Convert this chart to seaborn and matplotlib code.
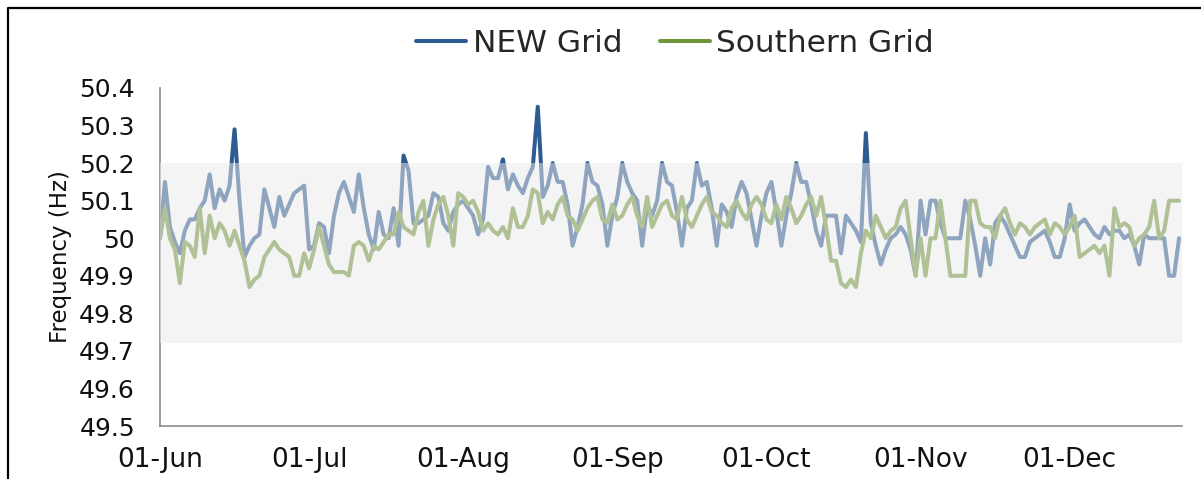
import matplotlib
matplotlib.use("Agg")
import matplotlib.dates as mdates
import matplotlib.pyplot as plt
import pandas as pd
import seaborn as sns
from matplotlib.lines import Line2D
from matplotlib.ticker import FuncFormatter

# daily grid frequency, 01-Jun .. 23-Dec
dates = pd.date_range("2013-06-01", periods=206, freq="D")

new_grid = [
    50.00, 50.15, 50.03, 49.99, 49.96, 50.02, 50.05, 50.05, 50.08, 50.10,
    50.17, 50.08, 50.13, 50.10, 50.14, 50.29, 50.10, 49.95, 49.98, 50.00,
    50.01, 50.13, 50.08, 50.03, 50.11, 50.06, 50.09, 50.12, 50.13, 50.14,
    49.97, 49.98, 50.04, 50.03, 49.96, 50.06, 50.12, 50.15, 50.11, 50.07,
    50.17, 50.08, 50.01, 49.97, 50.07, 50.01, 50.00, 50.08, 49.98, 50.22,
    50.18, 50.04, 50.04, 50.05, 50.06, 50.12, 50.11, 50.04, 50.02, 50.07,
    50.09, 50.10, 50.08, 50.06, 50.01, 50.05, 50.19, 50.16, 50.16, 50.21,
    50.13, 50.17, 50.14, 50.12, 50.16, 50.19, 50.35, 50.11, 50.14, 50.20,
    50.15, 50.15, 50.09, 49.98, 50.03, 50.09, 50.20, 50.15, 50.14, 50.09,
    49.98, 50.06, 50.11, 50.20, 50.15, 50.12, 50.10, 49.98, 50.09, 50.06,
    50.10, 50.20, 50.15, 50.14, 50.07, 49.98, 50.08, 50.10, 50.20, 50.14,
    50.15, 50.08, 49.98, 50.09, 50.07, 50.03, 50.11, 50.15, 50.12, 50.05,
    49.98, 50.06, 50.12, 50.15, 50.07, 49.98, 50.06, 50.12, 50.20, 50.15,
    50.15, 50.09, 50.02, 49.98, 50.06, 50.06, 50.06, 49.96, 50.06, 50.04,
    50.02, 49.99, 50.28, 50.04, 49.98, 49.93, 49.97, 50.00, 50.01, 50.03,
    50.01, 49.97, 49.90, 50.10, 50.01, 50.10, 50.10, 50.04, 50.00, 50.00,
    50.00, 50.00, 50.10, 50.05, 49.98, 49.90, 50.00, 49.93, 50.04, 50.06,
    50.04, 50.01, 49.98, 49.95, 49.95, 49.99, 50.00, 50.01, 50.02, 49.99,
    49.95, 49.95, 50.00, 50.09, 50.02, 50.04, 50.05, 50.03, 50.01, 50.00,
    50.03, 50.01, 50.02, 50.02, 50.00, 50.01, 49.98, 49.93, 50.01, 50.00,
    50.00, 50.00, 50.00, 49.90, 49.90, 50.00,
]

southern_grid = [
    50.00, 50.08, 50.00, 49.97, 49.88, 49.99, 49.98, 49.95, 50.08, 49.96,
    50.06, 50.00, 50.04, 50.02, 49.98, 50.02, 49.98, 49.94, 49.87, 49.89,
    49.90, 49.95, 49.97, 49.99, 49.97, 49.96, 49.95, 49.90, 49.90, 49.96,
    49.92, 49.97, 50.03, 49.98, 49.93, 49.91, 49.91, 49.91, 49.90, 49.98,
    49.99, 49.98, 49.94, 49.98, 49.97, 49.99, 50.01, 50.01, 50.07, 50.03,
    50.02, 50.01, 50.07, 50.10, 49.98, 50.05, 50.09, 50.11, 50.06, 49.98,
    50.12, 50.11, 50.09, 50.10, 50.07, 50.02, 50.04, 50.02, 50.01, 50.03,
    50.00, 50.08, 50.03, 50.03, 50.06, 50.13, 50.12, 50.04, 50.07, 50.05,
    50.09, 50.11, 50.06, 50.05, 50.02, 50.05, 50.08, 50.10, 50.11, 50.05,
    50.04, 50.09, 50.05, 50.06, 50.09, 50.11, 50.06, 50.03, 50.11, 50.03,
    50.06, 50.09, 50.10, 50.06, 50.05, 50.11, 50.05, 50.03, 50.06, 50.09,
    50.11, 50.07, 50.06, 50.04, 50.03, 50.08, 50.10, 50.07, 50.05, 50.09,
    50.11, 50.09, 50.05, 50.04, 50.09, 50.05, 50.11, 50.08, 50.04, 50.06,
    50.09, 50.11, 50.06, 50.11, 50.03, 49.94, 49.94, 49.88, 49.87, 49.89,
    49.87, 49.96, 50.02, 50.00, 50.06, 50.03, 50.00, 50.02, 50.03, 50.08,
    50.10, 50.00, 49.90, 50.00, 49.90, 50.00, 50.00, 50.10, 50.00, 49.90,
    49.90, 49.90, 49.90, 50.10, 50.10, 50.04, 50.03, 50.03, 50.00, 50.06,
    50.08, 50.04, 50.01, 50.04, 50.03, 50.01, 50.03, 50.04, 50.05, 50.01,
    50.04, 50.03, 50.01, 50.03, 50.06, 49.95, 49.96, 49.97, 49.98, 49.96,
    49.98, 49.90, 50.08, 50.03, 50.04, 50.03, 49.98, 50.00, 50.01, 50.03,
    50.10, 50.00, 50.02, 50.10, 50.10, 50.10,
]

series_names = ["NEW Grid", "Southern Grid"]
series_colors = ["#2d5b92", "#71953a"]
band_range = (49.72, 50.2)
y_ticks = [49.5, 49.6, 49.7, 49.8, 49.9, 50.0, 50.1, 50.2, 50.3, 50.4]


def main() -> int:
    sns.set_style("white")
    plt.rcParams["font.family"] = ["DejaVu Sans"]

    df = pd.DataFrame({
        "date": list(dates) * 2,
        "freq": new_grid + southern_grid,
        "grid": [series_names[0]] * len(new_grid) + [series_names[1]] * len(southern_grid),
    })
    palette = dict(zip(series_names, series_colors))

    fig = plt.figure(figsize=(12.01, 4.79), dpi=100)
    ax = fig.add_axes([0.1332, 0.1106, 0.8510, 0.7057])

    sns.lineplot(data=df, x="date", y="freq", hue="grid", hue_order=series_names,
                 palette=palette, linewidth=2.9, legend=False, ax=ax, zorder=2,
                 solid_joinstyle="round", solid_capstyle="round")

    # tolerance band drawn over the lines, washes them out
    ax.axhspan(band_range[0], band_range[1], color="#eaeaea", alpha=0.52, lw=0, zorder=3)

    ax.set_ylim(49.5, 50.4)
    ax.set_yticks(y_ticks)
    ax.yaxis.set_major_formatter(FuncFormatter(lambda v, _: f"{v:g}"))
    ax.set_xlim(dates[0], dates[0] + pd.Timedelta(days=205.6))
    ax.xaxis.set_major_locator(mdates.MonthLocator())
    ax.xaxis.set_major_formatter(mdates.DateFormatter("%d-%b"))

    for side in ("top", "right"):
        ax.spines[side].set_visible(False)
    for side in ("left", "bottom"):
        ax.spines[side].set_color("#8c8c8c")
        ax.spines[side].set_linewidth(1.2)

    ax.tick_params(axis="both", direction="out", length=7, width=1.2,
                   color="#8c8c8c", labelcolor="#111111")
    ax.tick_params(axis="y", pad=11, labelsize=18)
    ax.tick_params(axis="x", pad=8, labelsize=19)
    ax.set_xlabel("")
    ax.set_ylabel("Frequency (Hz)", fontsize=16.5, labelpad=5, color="#111111")

    handles = [Line2D([], [], color=c, lw=2.9) for c in series_colors]
    fig.legend(handles, series_names, loc="center", bbox_to_anchor=(675 / 1201, 1 - 43 / 479),
               ncol=2, frameon=False, fontsize=22.5, handlelength=1.6,
               handletextpad=0.2, columnspacing=1.2)

    # outer frame (cut off at right and bottom)
    fig.add_artist(Line2D([8 / 1201, 8 / 1201, 1.01], [-0.01, 1 - 8 / 479, 1 - 8 / 479],
                          transform=fig.transFigure, color="black", lw=1.6))

    fig.savefig("out.png", dpi=100)
    plt.close(fig)
    return 0


if __name__ == "__main__":
    raise SystemExit(main())
